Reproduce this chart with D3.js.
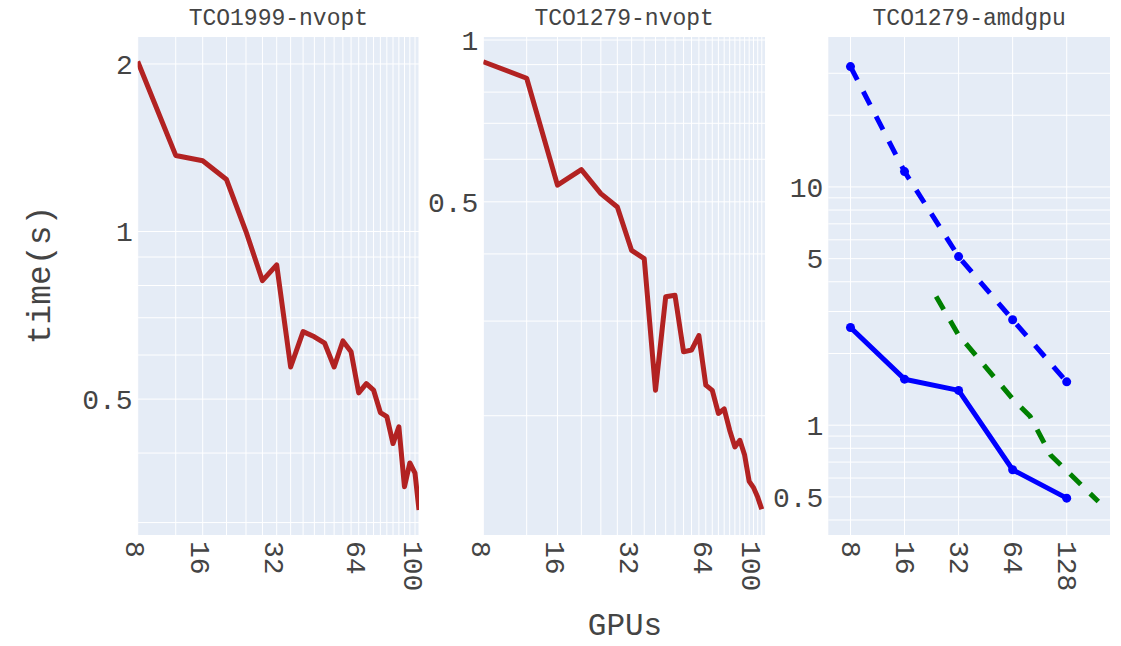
<!DOCTYPE html>
<html><head><meta charset="utf-8">
<script src="https://cdn.jsdelivr.net/npm/d3@7"></script>
<style>
body{margin:0;background:#fff}
text{font-family:"Liberation Mono","DejaVu Sans Mono",monospace;fill:#444}
</style>
</head><body>
<svg id="c" width="1121" height="646"></svg>
<script>
// ---------------- data ----------------
const titles = ["TCO1999-nvopt", "TCO1279-nvopt", "TCO1279-amdgpu"];

const gpus1 = [8,12,16,20,24,28,32,36,40,44,48,52,56,60,64,68,72,76,80,84,88,92,96,100,104];
const time1 = [2.02,1.37,1.34,1.24,1.0,0.816,0.871,0.571,0.661,0.647,0.63,0.571,0.636,0.608,0.513,0.533,0.519,0.473,0.465,0.416,0.446,0.348,0.384,0.368,0.316];

const gpus2 = [8,12,16,20,24,28,32,36,40,44,48,52,56,60,64,68,72,76,80,84,88,92,96,100,104,108];
const time2 = [0.911,0.849,0.537,0.574,0.518,0.489,0.406,0.392,0.223,0.333,0.335,0.263,0.265,0.282,0.228,0.223,0.202,0.206,0.188,0.175,0.180,0.169,0.151,0.147,0.141,0.134];

const gpus3 = [8,16,32,64,128];
const time3Solid = [2.57,1.56,1.40,0.65,0.494];
const time3Dash = [32,11.6,5.1,2.77,1.52];
const gpus3Green = [24,32,64,80,104,192];
const time3Green = [3.47,2.39,1.29,1.09,0.75,0.478];

const xTicks12 = [8,16,32,64,100];
const xTicks3 = [8,16,32,64,128];
const yGrid1 = [0.3,0.4,0.5,0.6,0.7,0.8,0.9,1,2];
const yTicks1 = [0.5,1,2];
const yGrid2 = [0.2,0.3,0.4,0.5,0.6,0.7,0.8,0.9,1];
const yTicks2 = [0.5,1];
const yGrid3 = [0.4,0.5,0.6,0.7,0.8,0.9,1,2,3,4,5,6,7,8,9,10,20,30];
const yTicks3 = [0.5,1,5,10];

// ---------------- layout ----------------
const svg = d3.select("#c");
const plotTop = 37, plotBottom = 535;
const bg = "#E5ECF6";

const panels = [
  {
    title: titles[0],
    x: d3.scaleLog().domain([8,16,32,64,100,104]).range([137.7,202.7,276.7,358.7,415,419]),
    y: d3.scaleLog().domain([0.285,2.236]).range([plotBottom, plotTop]),
    xGrid: gpus1, xTicks: xTicks12, yGrid: yGrid1, yTicks: yTicks1, labelShift: -4,
    series: [{xs: gpus1, ys: time1, color: "#B22222", dash: null, markers: false}]
  },
  {
    title: titles[1],
    x: d3.scaleLog().domain([8,111.3]).range([483.3,765]),
    y: d3.scaleLog().domain([0.12,1.013]).range([plotBottom, plotTop]),
    xGrid: gpus2, xTicks: xTicks12, yGrid: yGrid2, yTicks: yTicks2, labelShift: -4,
    series: [{xs: gpus2, ys: time2, color: "#B22222", dash: null, markers: false}]
  },
  {
    title: titles[2],
    x: d3.scaleLog().domain([6.02,223]).range([828.3,1110]),
    y: d3.scaleLog().domain([0.346,42.6]).range([plotBottom, plotTop]),
    xGrid: xTicks3, xTicks: xTicks3, yGrid: yGrid3, yTicks: yTicks3, labelShift: -1,
    series: [
      {xs: gpus3Green, ys: time3Green, color: "#008000", dash: "15,13", markers: false},
      {xs: gpus3, ys: time3Dash, color: "#0000FF", dash: "15,13", markers: true},
      {xs: gpus3, ys: time3Solid, color: "#0000FF", dash: null, markers: true}
    ]
  }
];

const fmt = v => (v < 1 ? d3.format(".1f")(v) : String(v));

panels.forEach((p, i) => {
  const r = p.x.range();
  const x0 = r[0], x1 = r[r.length - 1];
  const g = svg.append("g");
  g.append("rect").attr("x", x0).attr("y", plotTop).attr("width", x1 - x0).attr("height", plotBottom - plotTop).attr("fill", bg);

  const clipId = "clip" + i;
  svg.append("clipPath").attr("id", clipId).append("rect")
    .attr("x", x0).attr("y", plotTop).attr("width", x1 - x0).attr("height", plotBottom - plotTop);

  // grid
  g.append("g").selectAll("line").data(p.xGrid).join("line")
    .attr("x1", d => p.x(d)).attr("x2", d => p.x(d)).attr("y1", plotTop).attr("y2", plotBottom)
    .attr("stroke", "#fff").attr("stroke-width", 1);
  g.append("g").selectAll("line").data(p.yGrid).join("line")
    .attr("x1", x0).attr("x2", x1).attr("y1", d => p.y(d)).attr("y2", d => p.y(d))
    .attr("stroke", "#fff").attr("stroke-width", 1);

  // y tick labels
  g.append("g").selectAll("text").data(p.yTicks).join("text")
    .attr("x", x0 - 5).attr("y", d => p.y(d)).attr("dy", "0.35em")
    .attr("text-anchor", "end").attr("font-size", 28).text(fmt);

  // x tick labels (rotated)
  g.append("g").selectAll("text").data(p.xTicks).join("text")
    .attr("transform", d => `translate(${p.x(d) + p.labelShift},${plotBottom + 6}) rotate(90)`)
    .attr("dominant-baseline", "central").attr("text-anchor", "start")
    .attr("font-size", 28).text(d => String(d));

  // title
  g.append("text").attr("x", (x0 + x1) / 2).attr("y", 17).attr("dy", "0.35em")
    .attr("text-anchor", "middle").attr("font-size", 23).text(p.title);

  // series
  const lg = g.append("g").attr("clip-path", `url(#${clipId})`);
  p.series.forEach(s => {
    const pts = s.xs.map((v, k) => [v, s.ys[k]]);
    const line = d3.line().x(d => p.x(d[0])).y(d => p.y(d[1]));
    lg.append("path").datum(pts).attr("d", line)
      .attr("fill", "none").attr("stroke", s.color).attr("stroke-width", 5)
      .attr("stroke-linejoin", "round")
      .attr("stroke-dasharray", s.dash);
    if (s.markers) {
      lg.append("g").selectAll("circle").data(pts).join("circle")
        .attr("cx", d => p.x(d[0])).attr("cy", d => p.y(d[1])).attr("r", 4.5)
        .attr("fill", s.color);
    }
  });
});

// axis titles
svg.append("text").attr("transform", "translate(38,275) rotate(-90)")
  .attr("text-anchor", "middle").attr("dy", "0.35em").attr("font-size", 33).text("time(s)");
svg.append("text").attr("x", 625).attr("y", 624).attr("dy", "0.35em")
  .attr("text-anchor", "middle").attr("font-size", 31).text("GPUs");
</script>
</body></html>
